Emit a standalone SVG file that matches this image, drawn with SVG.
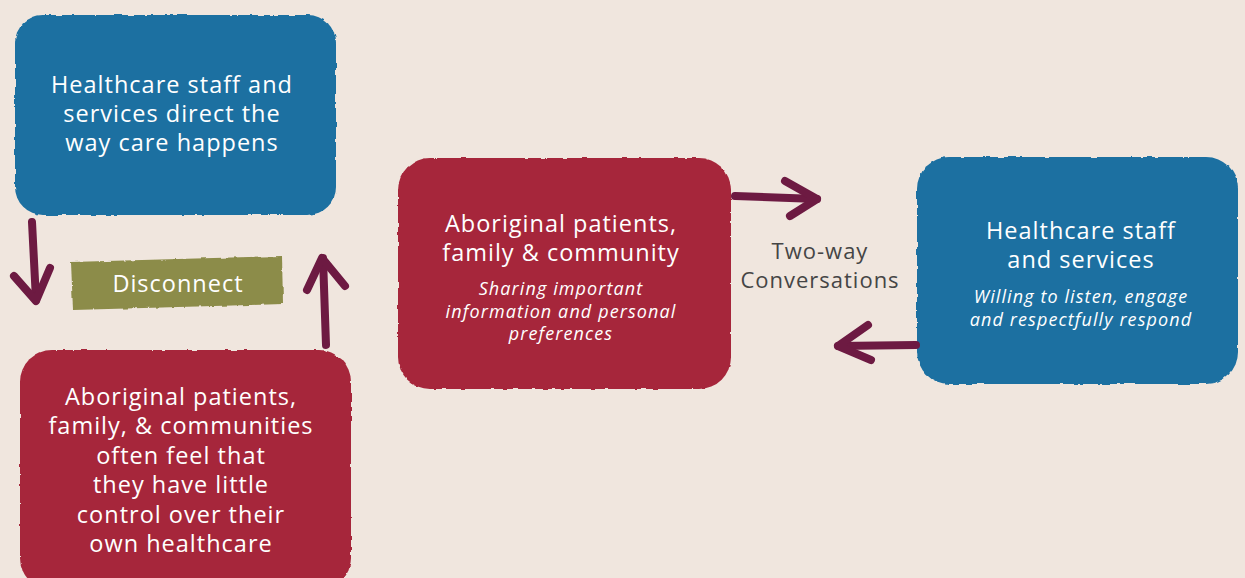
<svg xmlns="http://www.w3.org/2000/svg" width="1245" height="578" viewBox="0 0 1245 578">
<defs>
<filter id="rough" x="-5%" y="-5%" width="110%" height="110%">
<feTurbulence type="fractalNoise" baseFrequency="0.1" numOctaves="3" seed="4" result="n"/>
<feDisplacementMap in="SourceGraphic" in2="n" scale="3" xChannelSelector="R" yChannelSelector="G"/>
</filter>
<style>
.blue{fill:#1a6fa1}
.red{fill:#a6263b}
.olive{fill:#8c8c48}
.t{font-family:"Open Sans","Noto Sans","Liberation Sans",sans-serif;fill:#ffffff;text-anchor:middle;letter-spacing:1px}
.m{font-size:23.5px}
.i{font-size:18px;font-style:italic;letter-spacing:1.1px}
.g{font-family:"Open Sans","Noto Sans","Liberation Sans",sans-serif;fill:#454545;text-anchor:middle;font-size:22px;letter-spacing:1px}
.arr{fill:none;stroke:#6d1a42;stroke-width:8;stroke-linecap:round;stroke-linejoin:round}
</style>
</defs>
<rect width="1245" height="578" fill="#f0e6de"/>

<g id="node-top-left">
<rect class="blue" x="15" y="15" width="321" height="200" rx="28" filter="url(#rough)"/>
<text class="t m" x="172" y="93">Healthcare staff and</text>
<text class="t m" x="172" y="122">services direct the</text>
<text class="t m" x="172" y="151">way care happens</text>
</g>

<g id="node-disconnect">
<path class="olive" d="M71 262 L282 256 L283 304 L73 310 Z" filter="url(#rough)"/>
<text class="t m" x="178" y="292">Disconnect</text>
</g>

<g id="node-bottom-left">
<rect class="red" x="20" y="350" width="331" height="240" rx="32" filter="url(#rough)"/>
<text class="t m" x="181" y="405">Aboriginal patients,</text>
<text class="t m" x="181" y="434">family, &amp; communities</text>
<text class="t m" x="181" y="464">often feel that</text>
<text class="t m" x="181" y="493">they have little</text>
<text class="t m" x="181" y="523">control over their</text>
<text class="t m" x="181" y="552">own healthcare</text>
</g>

<g id="node-middle">
<rect class="red" x="398" y="158" width="333" height="231" rx="32" filter="url(#rough)"/>
<text class="t m" x="561" y="232">Aboriginal patients,</text>
<text class="t m" x="561" y="261">family &amp; community</text>
<text class="t i" x="561" y="295">Sharing important</text>
<text class="t i" x="561" y="317.5">information and personal</text>
<text class="t i" x="561" y="340">preferences</text>
</g>

<g id="node-right">
<rect class="blue" x="917" y="157" width="321" height="227" rx="32" filter="url(#rough)"/>
<text class="t m" x="1081" y="239">Healthcare staff</text>
<text class="t m" x="1081" y="268">and services</text>
<text class="t i" x="1081" y="303">Willing to listen, engage</text>
<text class="t i" x="1081" y="325.5">and respectfully respond</text>
</g>

<g id="label-two-way">
<text class="g" x="820" y="259">Two-way</text>
<text class="g" x="820" y="288">Conversations</text>
</g>

<g id="connectors">
<path class="arr" d="M32 222 L36 300"/>
<path class="arr" d="M14 276 L36 301 L50 268"/>
<path class="arr" d="M326 345 L323 258"/>
<path class="arr" d="M307 290 L322 258 L345 286"/>
<path class="arr" d="M735 196 L817 199"/>
<path class="arr" d="M785 181 L817 199 L790 216"/>
<path class="arr" d="M916 345 L838 346"/>
<path class="arr" d="M868 325 L838 346 L871 360"/>
</g>
</svg>
